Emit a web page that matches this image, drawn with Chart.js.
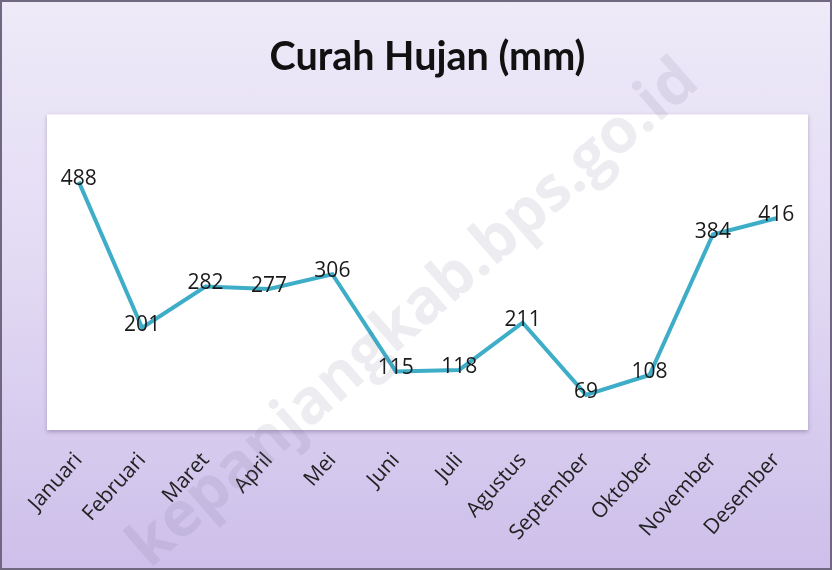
<!DOCTYPE html>
<html>
<head>
<meta charset="utf-8">
<script src="https://cdn.jsdelivr.net/npm/chart.js@4.4.1/dist/chart.umd.min.js"></script>
<style>
  html, body { margin: 0; padding: 0; background: #fff; }
  #box {
    width: 832px; height: 570px; box-sizing: border-box;
    border: 2px solid #6f6880;
    background: linear-gradient(to bottom, #eeeaf8 0%, #e3dbf4 45%, #cdbfea 100%);
  }
  canvas { display: block; }
</style>
</head>
<body>
<div id="box"><canvas id="grafik" width="828" height="566"></canvas></div>
<script>
// --- data curah hujan per bulan ---
const bulan = ["Januari", "Februari", "Maret", "April", "Mei", "Juni", "Juli",
  "Agustus", "September", "Oktober", "November", "Desember"];
const curahHujan = [488, 201, 282, 277, 306, 115, 118, 211, 69, 108, 384, 416];

const fontUtama = "'Open Sans', sans-serif";

// area plot putih
const latarPlot = {
  id: "latarPlot",
  beforeDraw(chart) {
    const { ctx, chartArea: a } = chart;
    ctx.save();
    ctx.shadowColor = "rgba(80,60,110,0.35)";
    ctx.shadowBlur = 4;
    ctx.shadowOffsetY = 2;
    ctx.fillStyle = "#ffffff";
    ctx.fillRect(a.left, a.top, a.right - a.left, a.bottom - a.top);
    ctx.restore();
  }
};

// label nilai di tiap titik
const labelNilai = {
  id: "labelNilai",
  afterDatasetsDraw(chart) {
    const { ctx } = chart;
    const meta = chart.getDatasetMeta(0);
    ctx.save();
    ctx.font = "21px " + fontUtama;
    ctx.fillStyle = "#1a1a1a";
    ctx.textAlign = "center";
    ctx.textBaseline = "middle";
    meta.data.forEach((p, i) => {
      ctx.fillText(curahHujan[i], p.x, p.y - 3);
    });
    ctx.restore();
  }
};

// watermark
const tandaAir = {
  id: "tandaAir",
  afterDraw(chart) {
    const { ctx } = chart;
    ctx.save();
    ctx.translate(412, 312);
    ctx.rotate(-0.72);
    ctx.font = "bold 62px 'Open Sans', sans-serif";
    ctx.fillStyle = "rgba(110,95,130,0.12)";
    ctx.textAlign = "center";
    ctx.textBaseline = "middle";
    ctx.fillText("kepanjangkab.bps.go.id", 0, 0);
    ctx.restore();
  }
};

new Chart(document.getElementById("grafik").getContext("2d"), {
  type: "line",
  data: {
    labels: bulan,
    datasets: [{
      label: "Curah Hujan",
      data: curahHujan,
      borderColor: "#3eaec8",
      borderWidth: 4,
      pointRadius: 0,
      tension: 0,
      fill: false
    }]
  },
  options: {
    responsive: false,
    animation: false,
    layout: { padding: { left: 45, right: 22, top: 0, bottom: 0 } },
    plugins: {
      legend: { display: false },
      tooltip: { enabled: false },
      title: {
        display: true,
        text: "Curah Hujan (mm)",
        color: "#111",
        font: { family: "Lato, 'Open Sans', sans-serif", size: 39.5, weight: "bold" },
        padding: { top: 32, bottom: 33 }
      }
    },
    scales: {
      x: {
        offset: true,
        grid: { display: false },
        border: { display: false },
        ticks: {
          color: "#222",
          font: { family: fontUtama, size: 21 },
          maxRotation: 48,
          minRotation: 48,
          padding: 10
        },
        afterFit(scale) { scale.height = 138; }
      },
      y: {
        display: false,
        min: 0,
        max: 620
      }
    }
  },
  plugins: [latarPlot, labelNilai, tandaAir]
});
</script>
</body>
</html>
